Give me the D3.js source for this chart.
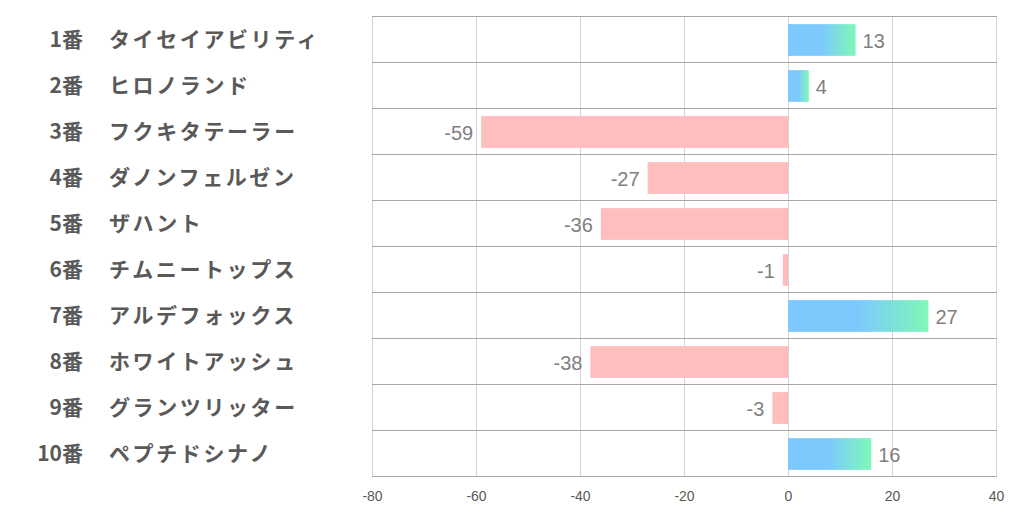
<!DOCTYPE html>
<html><head><meta charset="utf-8">
<script src="https://cdn.jsdelivr.net/npm/d3@7"></script>
<style>body{margin:0;background:#fff;}svg{display:block;}</style>
</head><body>
<svg id="c" width="1022" height="522"></svg>
<script>
const numbers = ["1番","2番","3番","4番","5番","6番","7番","8番","9番","10番"];
const names = ["タイセイアビリティ","ヒロノランド","フクキタテーラー","ダノンフェルゼン","ザハント","チムニートップス","アルデフォックス","ホワイトアッシュ","グランツリッター","ペプチドシナノ"];
const values = [13,4,-59,-27,-36,-1,27,-38,-3,16];
const ticks = [-80,-60,-40,-20,0,20,40];

const svg = d3.select("#c");
const L = 372, R = 996, T = 16, B = 476;
const x = d3.scaleLinear().domain([-80,40]).range([L,R]);
const y = d3.scaleBand().domain(d3.range(values.length)).range([T+1,B+1]).paddingInner(0.31).paddingOuter(0.155);
const row = d3.scaleBand().domain(d3.range(values.length)).range([T,B]);

const defs = svg.append("defs");
const g = defs.append("linearGradient").attr("id","pos").attr("x1","0").attr("x2","1").attr("y1","0").attr("y2","0");
g.append("stop").attr("offset","0").attr("stop-color","#7ccafd");
g.append("stop").attr("offset","0.5").attr("stop-color","#7ccafd");
g.append("stop").attr("offset","1").attr("stop-color","#7ff8b7");

// vertical grid
svg.append("g").selectAll("line").data(ticks).join("line")
  .attr("x1",d=>x(d)+0.5).attr("x2",d=>x(d)+0.5).attr("y1",T).attr("y2",B)
  .attr("stroke","#d4d4d4").attr("stroke-width",1);
// horizontal grid
svg.append("g").selectAll("line").data(d3.range(values.length+1)).join("line")
  .attr("x1",L).attr("x2",R+1).attr("y1",d=>T+d*row.bandwidth()+0.5).attr("y2",d=>T+d*row.bandwidth()+0.5)
  .attr("stroke","#a8a8a8").attr("stroke-width",1);

// bars
svg.append("g").selectAll("rect").data(values).join("rect")
  .attr("x",d=>x(Math.min(0,d))).attr("width",d=>Math.abs(x(d)-x(0)))
  .attr("y",(d,i)=>y(i)).attr("height",y.bandwidth())
  .attr("fill",d=>d>=0?"url(#pos)":"#ffbdbe");

// value labels
svg.append("g").selectAll("text").data(values).join("text")
  .attr("x",d=>d>=0?x(d)+7:x(d)-8)
  .attr("y",(d,i)=>y(i)+y.bandwidth()/2+1)
  .attr("dy","0.36em")
  .attr("text-anchor",d=>d>=0?"start":"end")
  .attr("font-family","'Liberation Sans', 'Open Sans', sans-serif")
  .attr("font-size",20).attr("fill","#7f7f7f")
  .text(d=>d);

// category labels
const lab = svg.append("g").attr("font-family","'Noto Sans CJK JP', sans-serif").attr("font-weight","bold").attr("font-size",21).attr("fill","#595959");
lab.selectAll("text.n").data(numbers).join("text").attr("class","n")
  .attr("x",83).attr("y",(d,i)=>row(i)+row.bandwidth()/2).attr("dy","0.36em")
  .attr("text-anchor","end").text(d=>d);
lab.selectAll("text.m").data(names).join("text").attr("class","m")
  .attr("x",109).attr("y",(d,i)=>row(i)+row.bandwidth()/2).attr("dy","0.36em")
  .attr("letter-spacing",2.6).text(d=>d);

// axis ticks
const ax = svg.append("g").attr("transform",`translate(0,${B})`)
  .call(d3.axisBottom(x).tickValues(ticks).tickSize(0).tickPadding(15).tickFormat(d=>String(d)));
ax.select(".domain").remove();
ax.selectAll("text").attr("font-family","'Liberation Sans', 'Open Sans', sans-serif").attr("font-size",14).attr("fill","#595959");
</script>
</body></html>
